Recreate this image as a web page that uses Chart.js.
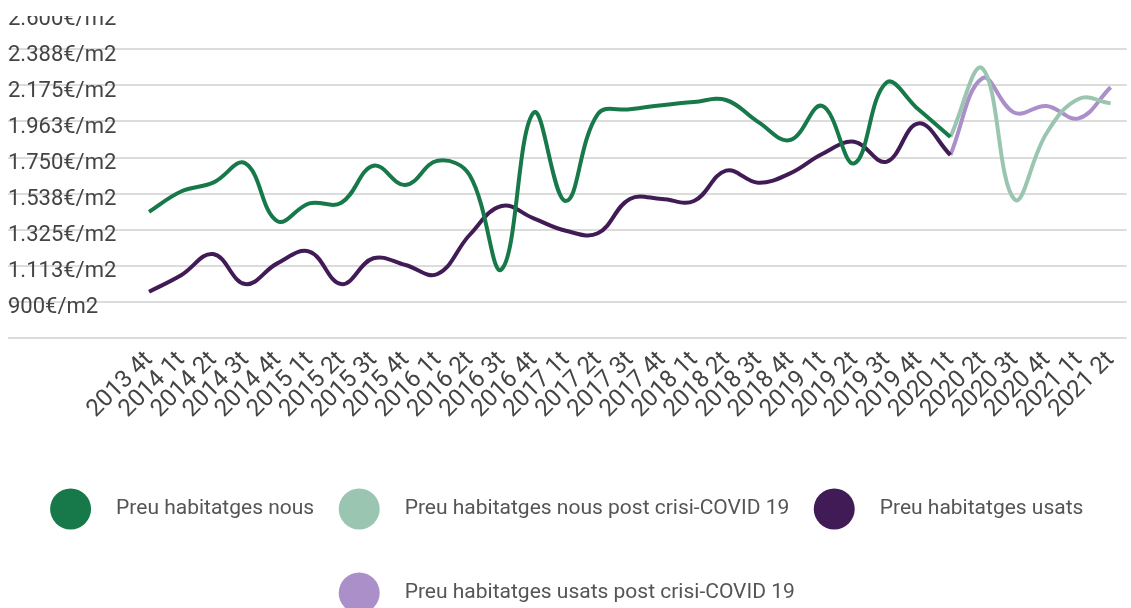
<!DOCTYPE html>
<html>
<head>
<meta charset="utf-8">
<script src="https://cdn.jsdelivr.net/npm/chart.js@4.4.1/dist/chart.umd.min.js"></script>
<style>
  html, body { margin: 0; padding: 0; background: #fff; overflow: hidden; }
  #wrap { position: absolute; left: 0; top: 0; width: 1131px; height: 640px; clip-path: inset(16px 0 0 0); }
</style>
</head>
<body>
<div id="wrap"><canvas id="myChart" width="1131" height="640"></canvas></div>
<script>
var labels = [
  "2013 4t",
  "2014 1t", "2014 2t", "2014 3t", "2014 4t",
  "2015 1t", "2015 2t", "2015 3t", "2015 4t",
  "2016 1t", "2016 2t", "2016 3t", "2016 4t",
  "2017 1t", "2017 2t", "2017 3t", "2017 4t",
  "2018 1t", "2018 2t", "2018 3t", "2018 4t",
  "2019 1t", "2019 2t", "2019 3t", "2019 4t",
  "2020 1t", "2020 2t", "2020 3t", "2020 4t",
  "2021 1t", "2021 2t"
];

// €/m2, nulls where the series is not drawn
var preuNous = [1430, 1550, 1602, 1716, 1376, 1480, 1484, 1702, 1588, 1731, 1647, 1092, 2014,
  1494, 2006, 2034, 2058, 2077, 2089, 1960, 1853, 2054, 1716, 2191, 2034, 1871,
  null, null, null, null, null];
var preuNousCovid = [null, null, null, null, null, null, null, null, null, null, null, null, null,
  null, null, null, null, null, null, null, null, null, null, null, null,
  1871, 2275, 1504, 1893, 2095, 2070];
var preuUsats = [960, 1057, 1182, 1005, 1127, 1196, 1005, 1157, 1117, 1064, 1294, 1465, 1392,
  1319, 1304, 1506, 1506, 1494, 1673, 1602, 1657, 1771, 1843, 1725, 1951, 1765,
  null, null, null, null, null];
var preuUsatsCovid = [null, null, null, null, null, null, null, null, null, null, null, null, null,
  null, null, null, null, null, null, null, null, null, null, null, null,
  1765, 2217, 2014, 2054, 1981, 2164];

var colors = ["#17794a", "#9ac6b1", "#401b56", "#ab8fc9"];

Chart.defaults.font.family = "Roboto";

// round dots for the legend, drawn where the legend put its boxes
var legendDots = {
  id: "legendDots",
  afterLayout: function(chart) {
    // legend sits a bit left of centre in the original
    chart.legend.left -= 10;
    chart.legend.right -= 10;
  },
  afterDraw: function(chart) {
    var ctx = chart.ctx;
    chart.legend.legendHitBoxes.forEach(function(box, i) {
      ctx.save();
      ctx.beginPath();
      ctx.arc(box.left + 35, box.top + box.height / 2, 20.5, 0, Math.PI * 2);
      ctx.fillStyle = chart.data.datasets[i].borderColor;
      ctx.fill();
      ctx.restore();
    });
  }
};

function euros(value) {
  if (value < 800) return "";
  return String(Math.round(value)).replace(/\B(?=(\d{3})+(?!\d))/g, ".") + "€/m2";
}

var ctx = document.getElementById("myChart");
var myChart = new Chart(ctx, {
  type: "line",
  data: {
    labels: labels,
    datasets: [
      { label: "Preu habitatges nous", data: preuNous, borderColor: colors[0], backgroundColor: colors[0] },
      { label: "Preu habitatges nous post crisi-COVID 19", data: preuNousCovid, borderColor: colors[1], backgroundColor: colors[1] },
      { label: "Preu habitatges usats", data: preuUsats, borderColor: colors[2], backgroundColor: colors[2] },
      { label: "Preu habitatges usats post crisi-COVID 19", data: preuUsatsCovid, borderColor: colors[3], backgroundColor: colors[3] }
    ]
  },
  options: {
    responsive: false,
    animation: false,
    layout: { padding: { left: 8 } },
    elements: {
      line: { tension: 0.4, borderWidth: 4, fill: false },
      point: { radius: 0, hoverRadius: 0 }
    },
    scales: {
      x: {
        offset: true,
        grid: { display: false },
        border: { display: false },
        ticks: {
          autoSkip: false,
          minRotation: 45,
          maxRotation: 45,
          padding: 0,
          color: "#444",
          font: { size: 24 }
        },
        afterFit: function(scale) { scale.height = 124; }
      },
      y: {
        min: 687.5,
        max: 2600,
        border: { display: false },
        grid: { color: "#dcdcdc", lineWidth: 2, tickLength: 125 },
        ticks: {
          stepSize: 212.5,
          crossAlign: "far",
          padding: 0,
          labelOffset: 6,
          color: "#444",
          font: { size: 22 },
          callback: euros
        },
        afterFit: function(scale) { scale.width = 125; }
      }
    },
    plugins: {
      legend: {
        position: "bottom",
        labels: {
          boxWidth: 70,
          boxHeight: 74,
          padding: 10,
          color: "#555",
          font: { size: 21 },
          generateLabels: function(chart) {
            return chart.data.datasets.map(function(ds, i) {
              return {
                text: ds.label,
                fillStyle: "rgba(0,0,0,0)",
                strokeStyle: "rgba(0,0,0,0)",
                lineWidth: 0,
                fontColor: "#555",
                hidden: false,
                datasetIndex: i
              };
            });
          }
        }
      },
      tooltip: { enabled: false }
    }
  },
  plugins: [legendDots]
});
</script>
</body>
</html>
